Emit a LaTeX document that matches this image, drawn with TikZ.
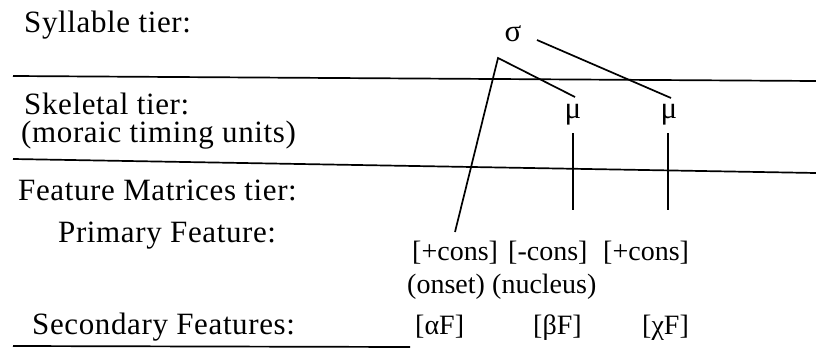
\documentclass[tikz,border=0pt]{standalone}
\usepackage{fontspec}
\setmainfont{Liberation Serif}
\newfontfamily\labelfont[LetterSpace=2]{Liberation Serif}
\begin{document}
\begin{tikzpicture}[x=1pt,y=-1pt,
  lbl/.style={inner sep=0pt, anchor=base west, font=\labelfont\fontsize{31}{36}\selectfont},
  txt/.style={inner sep=0pt, anchor=base west, font=\fontsize{28}{34}\selectfont},
  sym/.style={inner sep=0pt, anchor=base, font=\fontsize{31}{36}\selectfont},
  tierline/.style={line width=1.7pt},
  link/.style={line width=1.7pt}]
\useasboundingbox (0,0) rectangle (816,353);
% left labels
\node[lbl] (syl) at (24,33) {Syllable tier:};
\node[lbl] (skel) at (24,114) {Skeletal tier:};
\node[lbl] (mor) at (21,142) {(moraic timing units)};
\node[lbl] (fmt) at (18,200) {Feature Matrices tier:};
\node[lbl] (prim) at (58,242) {Primary Feature:};
\node[lbl] (sec) at (32,334) {Secondary Features:};
% tier separators
\coordinate (L1a) at (13,76);  \coordinate (L1b) at (816,81);
\coordinate (L2a) at (13,159); \coordinate (L2b) at (816,173);
\coordinate (L3a) at (13,346); \coordinate (L3b) at (410,347);
\draw[tierline] (L1a) -- (L1b);
\draw[tierline] (L2a) -- (L2b);
\draw[tierline] (L3a) -- (L3b);
% units
\node[sym] (sigma) at (513,42) {σ};
\node[sym] (mu1) at (573,118) {μ};
\node[sym] (mu2) at (669,118) {μ};
\node[txt] (ons) at (412,260) {[+cons]};
\node[txt] (nuc) at (508,260) {[-cons]};
\node[txt] (cod) at (603,260) {[+cons]};
\node[txt] (onsl) at (407,293) {(onset)};
\node[txt] (nucl) at (492,293) {(nucleus)};
\node[txt] (fa) at (415,334) {[αF]};
\node[txt] (fb) at (533,334) {[βF]};
\node[txt] (fc) at (642,334) {[χF]};
% association lines
\coordinate (apex) at (498,58);
\coordinate (s1) at (537,40);
\coordinate (m2top) at (671,98);
\coordinate (m1top) at (575,97);
\coordinate (onstop) at (455,232);
\coordinate (m1a) at (573,133); \coordinate (m1b) at (573,210);
\coordinate (m2a) at (668,133); \coordinate (m2b) at (668,210);
\draw[link] (s1) -- (m2top);
\draw[link] (m1top) -- (apex) -- (onstop);
\draw[link] (m1a) -- (m1b);
\draw[link] (m2a) -- (m2b);
\end{tikzpicture}
\end{document}
